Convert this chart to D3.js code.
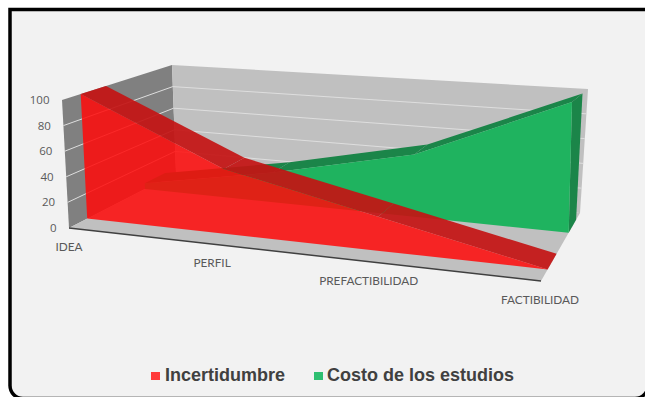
<!DOCTYPE html>
<html>
<head>
<meta charset="utf-8">
<script src="https://cdn.jsdelivr.net/npm/d3@7/dist/d3.min.js"></script>
<style>
html, body { margin: 0; padding: 0; background: #fff; }
svg { display: block; }
</style>
</head>
<body>
<svg id="chart" width="645" height="397"></svg>
<script>
const categories = ["IDEA", "PERFIL", "PREFACTIBILIDAD", "FACTIBILIDAD"];
const incertidumbre = [100, 50, 25, 0];
const costo = [5, 25, 50, 100];
const valueTicks = [0, 20, 40, 60, 80, 100];
const seriesNames = ["Incertidumbre", "Costo de los estudios"];

const colors = {
  page: "#f2f2f2", sideWall: "#808080", backWall: "#c0c0c0", floor: "#c0c0c0",
  grid: "#dedede", axis: "#404040", label: "#595959", legend: "#404040",
  redFront: "#ff0a0a", redTop: "#c41414", greenFront: "#1fb35f", greenTop: "#1b8549"
};

const svg = d3.select("#chart");

// Corners of the plot box in screen space: [category end, value end, depth end]
const box = {
  "000": [69, 228], "010": [62, 100], "001": [176, 173], "011": [172, 65],
  "100": [541, 281], "110": [533, 134], "101": [580, 213], "111": [588, 89]
};

const tScale = d3.scaleLinear().domain([0, categories.length - 1]).range([0, 1]);
const vScale = d3.scaleLinear().domain([0, 100]).range([0, 1]);
const RIGHT_WEIGHT = 0.87; // perspective foreshortening along the category axis

// Trilinear placement with a rational weight on the category axis
function project(cat, val, depth) {
  const t0 = tScale(cat);
  const t = RIGHT_WEIGHT * t0 / (1 - t0 + RIGHT_WEIGHT * t0);
  const v = vScale(val);
  const out = [0, 0];
  for (const a of [0, 1]) for (const b of [0, 1]) for (const c of [0, 1]) {
    const w = (a ? t : 1 - t) * (b ? v : 1 - v) * (c ? depth : 1 - depth);
    const p = box["" + a + b + c];
    out[0] += w * p[0];
    out[1] += w * p[1];
  }
  return out;
}

const path = pts => "M" + pts.map(p => p[0].toFixed(1) + "," + p[1].toFixed(1)).join("L") + "Z";

// Card behind the chart; its top edge runs off the right of the page,
// and only the lower corners are rounded
svg.append("rect").attr("width", 645).attr("height", 397).attr("fill", "#fff");
const card = d3.path();
card.moveTo(10, 9.5);
card.lineTo(10, 386);
card.arcTo(10, 398.5, 24, 398.5, 13);
card.lineTo(634, 398.5);
card.arcTo(648, 398.5, 648, 386, 13);
card.lineTo(648, 9.5);
card.closePath();
svg.append("path").attr("d", card.toString())
  .attr("fill", colors.page).attr("stroke", "#000").attr("stroke-width", 3.5);

// Walls and floor
svg.append("path").attr("fill", colors.sideWall)
  .attr("d", path([project(0,0,0), project(0,100,0), project(0,100,1), project(0,0,1)]));
svg.append("path").attr("fill", colors.backWall)
  .attr("d", path([project(0,0,1), project(0,100,1), project(3,100,1), project(3,0,1)]));
svg.append("path").attr("fill", colors.floor)
  .attr("d", path([project(0,0,0), project(3,0,0), project(3,0,1), project(0,0,1)]));

// Gridlines run along the side wall and the back wall
valueTicks.filter(d => d > 0 && d < 100).forEach(d => {
  svg.append("polyline").attr("fill", "none").attr("stroke", colors.grid).attr("stroke-width", 1)
    .attr("points", [project(0,d,0), project(0,d,1), project(3,d,1)].map(p => p.join(",")).join(" "));
});

// Dark edge along the front of the floor
svg.append("line").attr("stroke", colors.axis).attr("stroke-width", 1.5)
  .attr("x1", project(0,0,0)[0]).attr("y1", project(0,0,0)[1])
  .attr("x2", project(3,0,0)[0]).attr("y2", project(3,0,0)[1]);

// One slab of the 3D area series: top faces, end cap and front face
function slab(values, zFront, zBack, frontColor, topColor, frontOpacity, topOpacity, capAtEnd) {
  const idx = d3.range(values.length);
  const g = svg.append("g");
  if (capAtEnd) {
    const last = values.length - 1, v = values[last];
    g.append("path").attr("fill", topColor)
      .attr("d", path([project(last,0,zFront), project(last,v,zFront), project(last,v,zBack), project(last,0,zBack)]));
  }
  idx.slice(1).forEach(i => {
    g.append("path").attr("fill", topColor).attr("fill-opacity", topOpacity)
      .attr("d", path([project(i-1,values[i-1],zFront), project(i,values[i],zFront),
                       project(i,values[i],zBack), project(i-1,values[i-1],zBack)]));
  });
  const top = idx.map(i => project(i, values[i], zFront));
  const bottom = idx.map(i => project(i, 0, zFront)).reverse();
  g.append("path").attr("fill", frontColor).attr("fill-opacity", frontOpacity)
    .attr("d", path(top.concat(bottom)));
}

slab(costo, 0.71, 0.90, colors.greenFront, colors.greenTop, 1, 1, true);
slab(incertidumbre, 0.17, 0.40, colors.redFront, colors.redTop, 0.86, 0.92, false);

// Value axis labels
svg.append("g").selectAll("text").data(valueTicks).join("text")
  .attr("x", d => project(0,d,0)[0] - 12.5)
  .attr("y", d => project(0,d,0)[1] + 4)
  .attr("text-anchor", "end").attr("fill", colors.label)
  .attr("font-family", "'Open Sans'").attr("font-size", 11.5)
  .text(d => d);

// Category labels sit just under the front edge of the floor
svg.append("g").selectAll("text").data(categories).join("text")
  .attr("x", (d, i) => project(i,0,0)[0] + [0, 0, 0, -1][i])
  .attr("y", (d, i) => project(i,0,0)[1] + 23)
  .attr("text-anchor", "middle").attr("fill", colors.label)
  .attr("font-family", "Lato").attr("font-size", 11.8)
  .text(d => d);

// Legend
const legendItems = [
  { name: seriesNames[0], color: "#ff3b3b", sx: 151, tx: 165 },
  { name: seriesNames[1], color: "#2fbf71", sx: 314, tx: 327 }
];
const legend = svg.append("g").selectAll("g").data(legendItems).join("g");
legend.append("rect").attr("x", d => d.sx).attr("y", 372).attr("width", 9).attr("height", 8).attr("fill", d => d.color);
legend.append("text").attr("x", d => d.tx).attr("y", 381)
  .attr("font-family", "'Liberation Sans'").attr("font-weight", "bold").attr("font-size", 18)
  .attr("fill", colors.legend).text(d => d.name);
</script>
</body>
</html>
